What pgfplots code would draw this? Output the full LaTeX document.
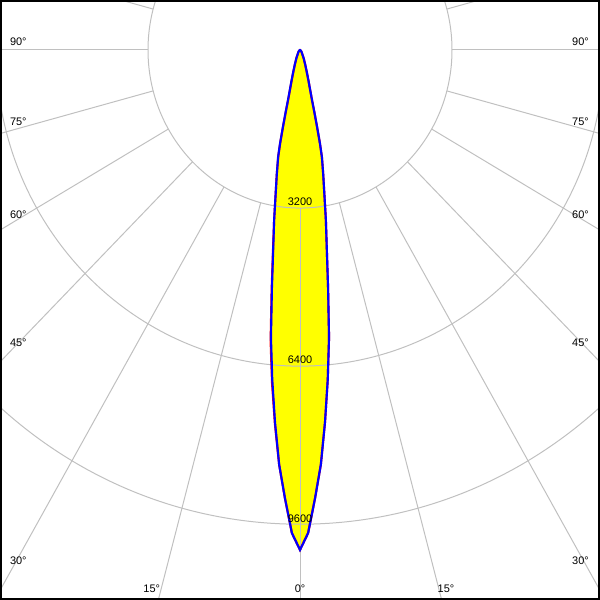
\documentclass[border=0pt]{standalone}
\usepackage{fontspec}
\setmainfont{Liberation Sans}
\usepackage{pgfplots}
\usepackage{pgfplotstable}
\pgfplotsset{compat=1.18}
\definecolor{gridc}{RGB}{192,192,192}
\definecolor{curveblue}{RGB}{0,0,255}
\definecolor{curvered}{RGB}{255,0,0}
\definecolor{lobefill}{RGB}{255,255,0}
% C0-C180 plane: angle (deg from nadir), intensity (cd)
\pgfplotstableread{
a I
-90 0
-80 2
-70 5
-60 10
-50 25
-40 50
-30 100
-25 180
-20 330
-17.5 490
-16 650
-15 800
-14 1050
-13.5 1300
-13 1600
-12.5 1950
-12 2220
-11 2560
-10 2950
-9 3480
-8 4050
-7 4850
-6 5850
-5 6700
-4 7550
-3 8400
-2 9080
-1 9780
0 10120
1 9780
2 9080
3 8400
4 7550
5 6700
6 5850
7 4850
8 4050
9 3480
10 2950
11 2560
12 2220
12.5 1950
13 1600
13.5 1300
14 1050
15 800
16 650
17.5 490
20 330
25 180
30 100
40 50
50 25
60 10
70 5
80 2
90 0
}\blueC
% C90-C270 plane
\pgfplotstableread{
a I
-90 0
-80 2
-70 5
-60 10
-50 25
-40 50
-30 100
-25 175
-20 320
-17.5 470
-16 620
-15 770
-14 1000
-13.5 1250
-13 1560
-12.5 1920
-12 2200
-11 2560
-10 2950
-9 3480
-8 4080
-7 4900
-6 5920
-5 6760
-4 7580
-3 8400
-2 9080
-1 9780
0 10120
1 9780
2 9080
3 8400
4 7550
5 6700
6 5850
7 4850
8 4050
9 3480
10 2950
11 2560
12 2220
12.5 1940
13 1590
13.5 1290
14 1040
15 800
16 650
17.5 490
20 330
25 180
30 100
40 50
50 25
60 10
70 5
80 2
90 0
}\redC
\newcommand{\lab}{\fontsize{8.25}{10}\selectfont}
\begin{document}
\begin{tikzpicture}
\begin{axis}[
  scale only axis, width=450bp, height=450bp,
  xmin=-6316, xmax=6316, ymin=-11134, ymax=1012,
  ticks=none, axis on top,
  axis line style={black, line width=3bp},
  clip=true,
]
\addplot[fill=lobefill, draw=none] table[x expr={\thisrow{I}*sin(\thisrow{a})}, y expr={-\thisrow{I}*cos(\thisrow{a})}] {\blueC};
% grid
\draw[gridc, line width=0.75bp] (axis cs:0,0) ellipse[x radius=3200, y radius=3200];
\draw[gridc, line width=0.75bp] (axis cs:0,0) ellipse[x radius=6400, y radius=6400];
\draw[gridc, line width=0.75bp] (axis cs:0,0) ellipse[x radius=9600, y radius=9600];
\pgfplotsinvokeforeach{-105,-90,-75,-60,-45,-30,-15,0,15,30,45,60,75,90,105}{
  \draw[gridc, line width=0.75bp] (axis cs:{3200*sin(#1)},{-3200*cos(#1)}) -- (axis cs:{20000*sin(#1)},{-20000*cos(#1)});
}
% curves
\addplot[curvered, line width=1.6bp, mark=none] table[x expr={\thisrow{I}*sin(\thisrow{a})}, y expr={-\thisrow{I}*cos(\thisrow{a})}] {\redC};
\addplot[curveblue, line width=1.6bp, mark=none] table[x expr={\thisrow{I}*sin(\thisrow{a})}, y expr={-\thisrow{I}*cos(\thisrow{a})}] {\blueC};
% labels
\node[font=\lab, inner sep=0] at (axis cs:0,-3081) {3200};
\node[font=\lab, inner sep=0] at (axis cs:0,-6269) {6400};
\node[font=\lab, inner sep=0] at (axis cs:0,-9494) {9600};
\node[font=\lab, inner sep=0] at (axis cs:-5931,162) {90°};
\node[font=\lab, inner sep=0] at (axis cs:-5931,-1451) {75°};
\node[font=\lab, inner sep=0] at (axis cs:-5931,-3340) {60°};
\node[font=\lab, inner sep=0] at (axis cs:-5931,-5921) {45°};
\node[font=\lab, inner sep=0] at (axis cs:-5931,-10344) {30°};
\node[font=\lab, inner sep=0] at (axis cs:-3122,-10911) {15°};
\node[font=\lab, inner sep=0] at (axis cs:0,-10911) {0°};
\node[font=\lab, inner sep=0] at (axis cs:3074,-10911) {15°};
\node[font=\lab, inner sep=0] at (axis cs:5905,-10344) {30°};
\node[font=\lab, inner sep=0] at (axis cs:5905,-5921) {45°};
\node[font=\lab, inner sep=0] at (axis cs:5905,-3340) {60°};
\node[font=\lab, inner sep=0] at (axis cs:5905,-1451) {75°};
\node[font=\lab, inner sep=0] at (axis cs:5905,162) {90°};
\end{axis}
\pgfresetboundingbox
\path[use as bounding box] (current axis.south west) rectangle (current axis.north east);
\end{tikzpicture}
\end{document}
